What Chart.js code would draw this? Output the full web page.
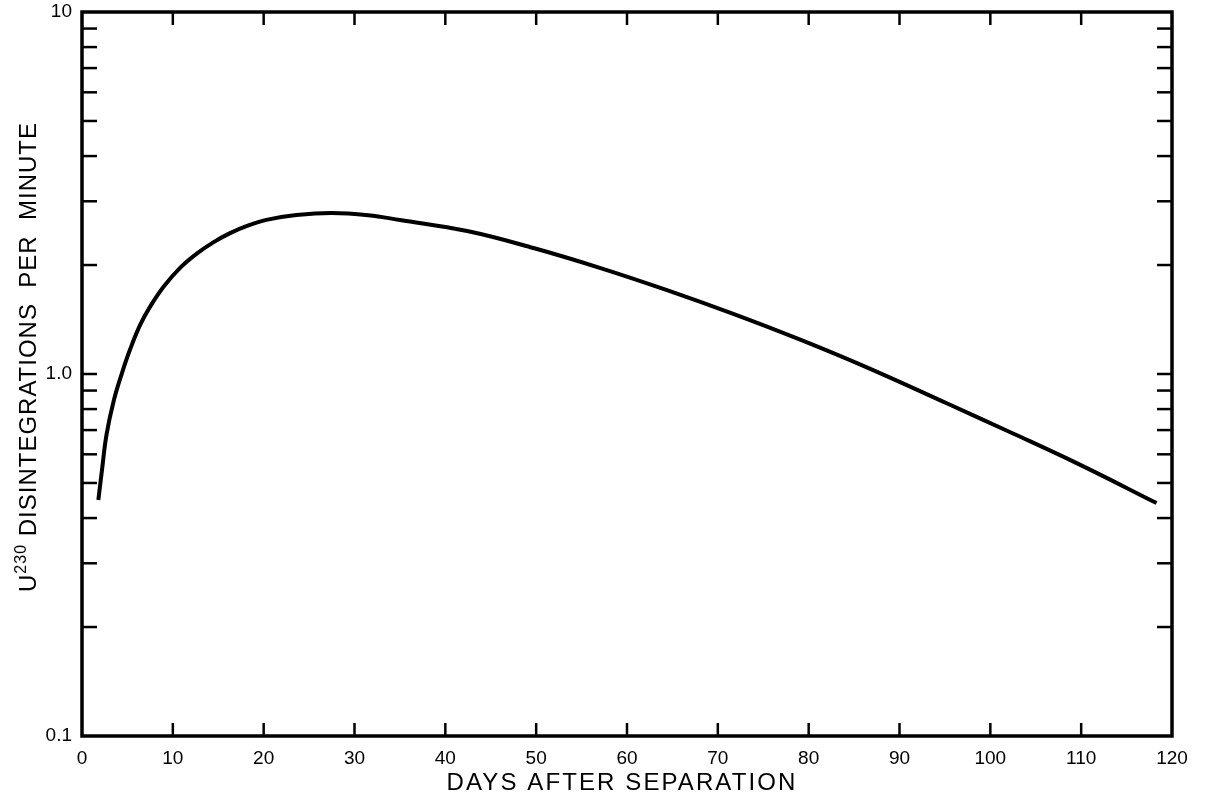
<!DOCTYPE html>
<html>
<head>
<meta charset="utf-8">
<script src="https://cdn.jsdelivr.net/npm/chart.js@4/dist/chart.umd.min.js"></script>
<style>
html,body{margin:0;padding:0;background:#fff;}
canvas{display:block;}
</style>
</head>
<body>
<canvas id="c" width="1206" height="805"></canvas>
<script>
// ---- data ----
const days = [1.8, 2.2, 2.7, 3.5, 4.4, 5.3, 6.4, 7.5, 9.0, 10.8, 12.6, 14.5, 16.3, 18.1, 20.3, 23.6, 27.5, 31.5, 35.0, 42.4, 49.7, 57.0, 64.4, 71.7, 79.0, 86.4, 95.2, 102.5, 109.9, 118.3];
const dpm  = [0.449, 0.543, 0.680, 0.845, 1.006, 1.170, 1.366, 1.535, 1.745, 1.965, 2.148, 2.314, 2.450, 2.562, 2.666, 2.749, 2.785, 2.745, 2.663, 2.483, 2.229, 1.965, 1.705, 1.466, 1.246, 1.043, 0.830, 0.685, 0.561, 0.440];
const xTickValues = [0, 10, 20, 30, 40, 50, 60, 70, 80, 90, 100, 110, 120];
const yTickValues = [0.1, 0.2, 0.3, 0.4, 0.5, 0.6, 0.7, 0.8, 0.9, 1, 2, 3, 4, 5, 6, 7, 8, 9, 10];
const yTickLabels = {0.1: '0.1', 1: '1.0', 10: '10'};
const xTitle = 'DAYS AFTER SEPARATION';
const yTitleMain = 'U';
const yTitleSup = '230';
const yTitleRest = ' DISINTEGRATIONS  PER  MINUTE';

const points = days.map((d, i) => ({x: d, y: dpm[i]}));
const FONT = '"Liberation Sans", Arial, sans-serif';

const framePlugin = {
  id: 'frame',
  afterDraw(chart) {
    const {ctx, chartArea: {left, right, top, bottom}, scales: {x, y}} = chart;
    ctx.save();
    ctx.strokeStyle = '#000';
    ctx.lineCap = 'butt';
    const seg = (a, b, c, d) => { ctx.beginPath(); ctx.moveTo(a, b); ctx.lineTo(c, d); ctx.stroke(); };
    ctx.lineWidth = 2.5;
    xTickValues.forEach(v => {
      if (v <= x.min || v >= x.max) return;
      const px = x.getPixelForValue(v);
      seg(px, bottom, px, bottom - 13);
      seg(px, top, px, top + 13);
    });
    yTickValues.forEach(v => {
      if (v <= y.min || v >= y.max) return;
      const py = y.getPixelForValue(v);
      seg(left, py, left + 15, py);
      seg(right, py, right - 15, py);
    });
    ctx.lineWidth = 3.5;
    ctx.strokeRect(left, top, right - left, bottom - top);

    // x title
    ctx.fillStyle = '#000';
    ctx.font = '24px ' + FONT;
    ctx.letterSpacing = '2.1px';
    ctx.textAlign = 'center';
    ctx.textBaseline = 'middle';
    ctx.fillText(xTitle, 622, 783);

    // y title (rotated, with superscript)
    ctx.translate(27, 357);
    ctx.rotate(-Math.PI / 2);
    ctx.textAlign = 'left';
    ctx.textBaseline = 'alphabetic';
    ctx.letterSpacing = '1.0px';
    const mainFont = '24px ' + FONT, supFont = '16px ' + FONT;
    ctx.font = mainFont; const wU = ctx.measureText(yTitleMain).width; const wR = ctx.measureText(yTitleRest).width;
    ctx.font = supFont; const wS = ctx.measureText(yTitleSup).width;
    let cx = -(wU + wS + wR) / 2;
    const base = 9;
    ctx.font = mainFont; ctx.fillText(yTitleMain, cx, base); cx += wU;
    ctx.font = supFont; ctx.fillText(yTitleSup, cx, base - 10); cx += wS;
    ctx.font = mainFont; ctx.fillText(yTitleRest, cx, base);
    ctx.restore();
  }
};

new Chart(document.getElementById('c'), {
  type: 'line',
  data: {
    datasets: [{
      data: points,
      borderColor: '#000',
      borderWidth: 4,
      pointRadius: 0,
      fill: false,
      tension: 0.4
    }]
  },
  options: {
    responsive: false,
    animation: false,
    devicePixelRatio: 1,
    layout: {padding: {top: 12, right: 34, left: 0, bottom: 0}},
    plugins: {legend: {display: false}, tooltip: {enabled: false}, title: {display: false}},
    scales: {
      x: {
        type: 'linear', min: 0, max: 120,
        afterBuildTicks: s => { s.ticks = xTickValues.map(v => ({value: v})); },
        afterFit: s => { s.height = 69; s.paddingLeft = 0; s.paddingRight = 0; },
        grid: {display: false, drawTicks: false},
        border: {display: false},
        ticks: {autoSkip: false, maxRotation: 0, padding: 11, color: '#000', font: {family: FONT, size: 19}}
      },
      y: {
        type: 'logarithmic', min: 0.1, max: 10,
        afterBuildTicks: s => { s.ticks = yTickValues.map(v => ({value: v})); },
        afterFit: s => { s.width = 82; s.paddingTop = 0; s.paddingBottom = 0; },
        grid: {display: false, drawTicks: false},
        border: {display: false},
        ticks: {
          autoSkip: false, padding: 10, color: '#000', font: {family: FONT, size: 19},
          callback: v => (yTickLabels[v] !== undefined ? yTickLabels[v] : '')
        }
      }
    }
  },
  plugins: [framePlugin]
});
</script>
</body>
</html>
